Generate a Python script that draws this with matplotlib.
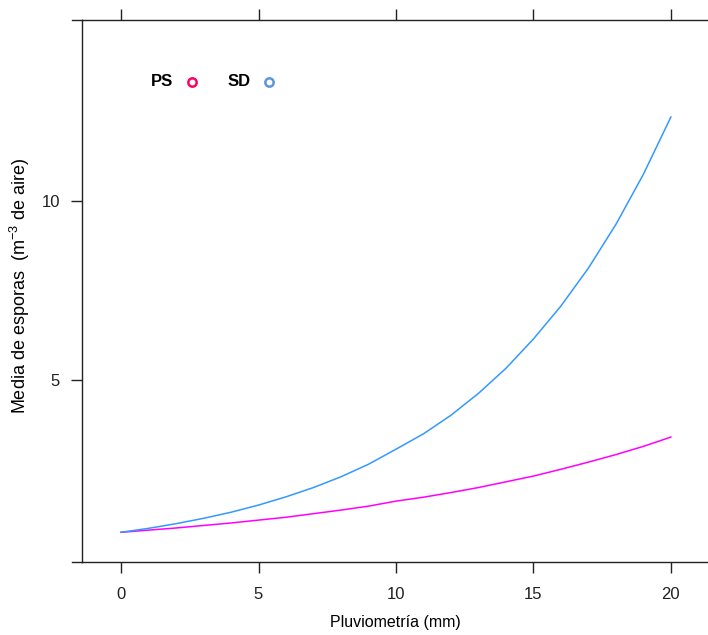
import matplotlib
matplotlib.use('Agg')
import matplotlib.pyplot as plt
from matplotlib.lines import Line2D

plt.rcParams['font.family'] = ['Liberation Sans', 'DejaVu Sans']
plt.rcParams['mathtext.fontset'] = 'custom'
plt.rcParams['mathtext.rm'] = 'Liberation Sans'
plt.rcParams['mathtext.it'] = 'Liberation Sans'

# values
pluvio = list(range(0, 21))
sd_media = [0.75, 0.86, 0.99, 1.14, 1.31, 1.51, 1.74, 2.00, 2.30, 2.65, 3.07,
            3.50, 4.02, 4.63, 5.33, 6.15, 7.07, 8.13, 9.35, 10.75, 12.35]
ps_media = [0.75, 0.81, 0.87, 0.94, 1.01, 1.09, 1.17, 1.27, 1.37, 1.48, 1.62,
            1.73, 1.86, 2.00, 2.16, 2.32, 2.51, 2.71, 2.92, 3.15, 3.41]
x_ticks = [0, 5, 10, 15, 20]
y_ticks = [5, 10]
groups = ['PS', 'SD']
point_colors = ['#ff0066', '#5b95dd']
line_colors = ['#ff00ff', '#3399ff']

W, H = 708, 635
fig = plt.figure(figsize=(W / 100, H / 100), dpi=100)
ax = fig.add_axes([82 / W, 1 - 562 / H, 1 - 82 / W, (562 - 20) / H])

ax.plot(pluvio, ps_media, color=line_colors[0], lw=1.1)
ax.plot(pluvio, sd_media, color=line_colors[1], lw=1.1)

ax.set_xlim(-1.42, 21.35)
ax.set_ylim(-0.08, 15.06)

ax.spines['right'].set_visible(False)
for s in ['left', 'bottom', 'top']:
    ax.spines[s].set_linewidth(1.0)
    ax.spines[s].set_color('#222222')

ax.set_xticks(x_ticks)
ax.set_yticks(y_ticks)
ax.tick_params(axis='x', which='both', direction='out', length=8, width=1,
               color='#222222', top=True, labeltop=False, labelsize=12,
               labelcolor='#202020', pad=10)
ax.tick_params(axis='y', direction='out', length=8, width=1, color='#222222',
               labelsize=12, labelcolor='#202020', pad=8)

# lattice style frame lines poking past the corner
for yy in [562, 20]:
    fig.add_artist(Line2D([72 / W, 82 / W], [1 - yy / H, 1 - yy / H],
                          color='#222222', lw=1.0))

fig.text(395 / W, 1 - 623 / H, 'Pluviometría (mm)', ha='center', va='center',
         fontsize=11.5)
fig.text(20 / W, 1 - 286 / H, r'Media de esporas  (m$^{-3}$ de aire)',
         ha='center', va='center', rotation=90, fontsize=13)

# key
text_x = [162, 239]
pt_x = [192, 269]
for g, tx, px, c in zip(groups, text_x, pt_x, point_colors):
    fig.text(tx / W, 1 - 82 / H, g, ha='center', va='center', fontsize=12,
             fontweight='bold')
    fig.add_artist(Line2D([px / W], [1 - 82 / H], marker='o', markersize=6,
                          markerfacecolor='none', markeredgecolor=c,
                          markeredgewidth=1.8, linestyle='none'))

fig.savefig('out.png', dpi=100)
